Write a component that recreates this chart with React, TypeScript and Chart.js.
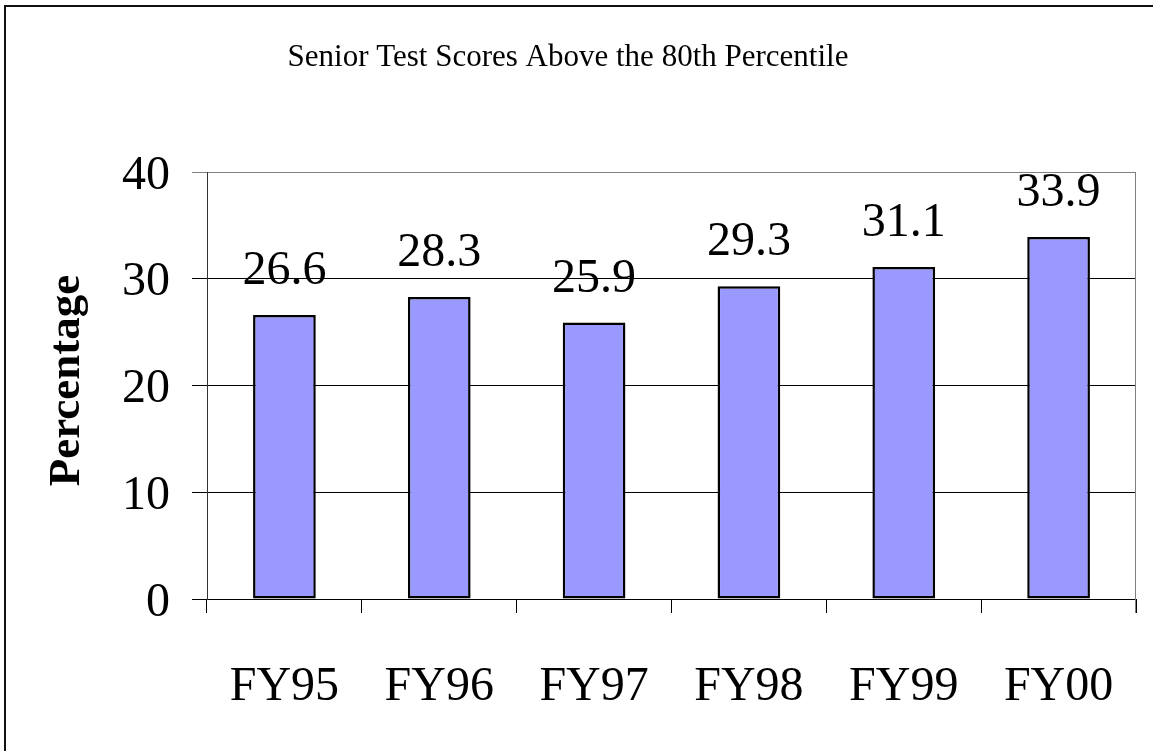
import React, { useEffect, useRef } from "react";
import { Chart, registerables } from "chart.js";

Chart.register(...registerables);

const categories = ["FY95", "FY96", "FY97", "FY98", "FY99", "FY00"];
const scores = [26.6, 28.3, 25.9, 29.3, 31.1, 33.9];
const yTicks = [0, 10, 20, 30, 40];
const chartTitle = "Senior Test Scores Above the 80th Percentile";
const yTitle = "Percentage";

const FONT = "'Liberation Serif', 'Times New Roman', serif";

const decorPlugin = {
  id: "decor",
  beforeDraw(chart: any) {
    const ctx = chart.ctx;
    ctx.save();
    ctx.fillStyle = "#ffffff";
    ctx.fillRect(0, 0, chart.width, chart.height);
    ctx.fillStyle = "#111111";
    ctx.fillRect(4, 5, 2, chart.height - 5);
    ctx.fillRect(4, 5, chart.width - 4, 2);
    ctx.restore();
  },
  afterDraw(chart: any) {
    const ctx = chart.ctx;
    const area = chart.chartArea;
    ctx.save();
    // right border of plot area
    ctx.strokeStyle = "#808080";
    ctx.lineWidth = 1;
    const rx = Math.round(area.right) - 0.5;
    ctx.beginPath();
    ctx.moveTo(rx, Math.round(area.top) + 0.5);
    ctx.lineTo(rx, Math.round(area.bottom) + 14);
    ctx.stroke();
    // title
    ctx.fillStyle = "#000000";
    ctx.font = `31px ${FONT}`;
    ctx.textAlign = "center";
    ctx.textBaseline = "alphabetic";
    ctx.fillText(chartTitle, 568, 66);
    // y title
    ctx.save();
    ctx.translate(79, (area.top + area.bottom) / 2 - 5);
    ctx.rotate(-Math.PI / 2);
    ctx.font = `bold 45px ${FONT}`;
    ctx.textAlign = "center";
    ctx.textBaseline = "alphabetic";
    ctx.fillText(yTitle, 0, 0);
    ctx.restore();
    // data labels
    const meta = chart.getDatasetMeta(0);
    ctx.font = `48px ${FONT}`;
    ctx.textAlign = "center";
    ctx.textBaseline = "alphabetic";
    meta.data.forEach((el: any, i: number) => {
      ctx.fillText(scores[i].toFixed(1), el.x, el.y - 31);
    });
    ctx.restore();
  },
};

export default function App() {
  const ref = useRef<HTMLCanvasElement>(null);
  useEffect(() => {
    document.body.style.margin = "0";
    if (!ref.current) return;
    const chart = new Chart(ref.current, {
      type: "bar",
      data: {
        labels: categories,
        datasets: [
          {
            data: scores,
            backgroundColor: "#9999FF",
            borderColor: "#000000",
            borderWidth: 2.5,
            borderSkipped: false,
            barPercentage: 0.405,
            categoryPercentage: 1,
          },
        ],
      },
      options: {
        responsive: false,
        animation: false,
        devicePixelRatio: 1,
        layout: { padding: { left: 107, top: 172, right: 17, bottom: 32 } },
        plugins: {
          legend: { display: false },
          title: { display: false },
          tooltip: { enabled: false },
        },
        scales: {
          x: {
            offset: true,
            grid: {
              offset: true,
              drawOnChartArea: false,
              drawTicks: true,
              tickLength: 14,
              tickColor: "#000000",
            },
            border: { display: true, color: "#000000", width: 1 },
            ticks: {
              color: "#000000",
              font: { family: FONT, size: 48 },
              padding: 46,
              maxRotation: 0,
              autoSkip: false,
            },
            afterFit: (scale: any) => {
              scale.height = 120;
              scale.paddingLeft = 0;
              scale.paddingRight = 0;
            },
          },
          y: {
            min: 0,
            max: 40,
            afterBuildTicks: (scale: any) => {
              scale.ticks = yTicks.map((v) => ({ value: v }));
            },
            grid: {
              color: (c: any) => (c.tick && c.tick.value === 40 ? "#808080" : "#000000"),
              tickColor: (c: any) => (c.tick && c.tick.value === 40 ? "#808080" : "#000000"),
              tickLength: 15,
              lineWidth: 1,
            },
            border: { display: true, color: "#333333", width: 1 },
            ticks: {
              color: "#000000",
              font: { family: FONT, size: 48 },
              padding: 22,
              labelOffset: 4,
            },
            afterFit: (scale: any) => {
              scale.width = 100;
              scale.paddingTop = 0;
              scale.paddingBottom = 0;
            },
          },
        },
      },
      plugins: [decorPlugin],
    });
    return () => chart.destroy();
  }, []);
  return <canvas ref={ref} width={1153} height={751} style={{ display: "block", width: 1153, height: 751 }} />;
}
